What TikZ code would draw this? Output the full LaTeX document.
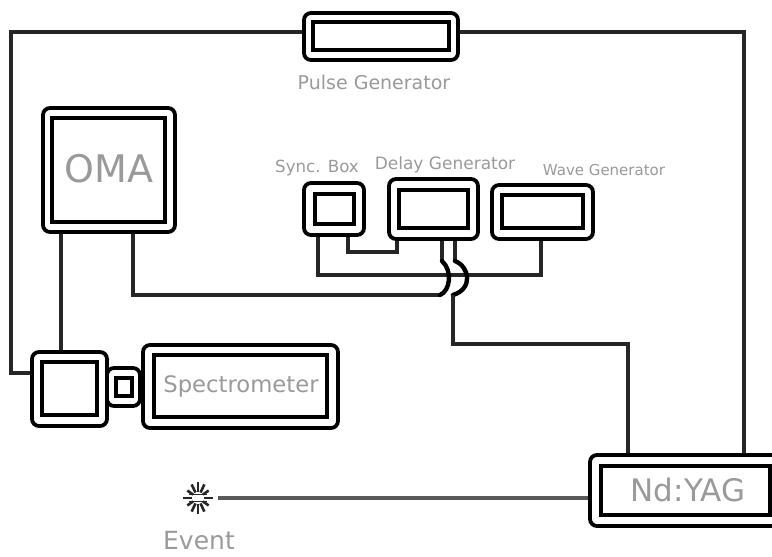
\documentclass[tikz,border=0pt]{standalone}
\usepackage{fontspec}
\setmainfont{DejaVu Sans}
\definecolor{lab}{HTML}{9A9A9A}
\definecolor{wire}{HTML}{262626}
\tikzset{
  outerbox/.style={draw=black,line width=3.8pt,rounded corners=7pt,fill=white,inner sep=0pt},
  innerbox/.style={draw=black,line width=4pt,fill=white,inner sep=0pt},
  wirel/.style={draw=wire,line width=3.2pt,line join=miter},
  jump/.style={draw=black,line width=4.4pt,line cap=round},
  beam/.style={draw=black!65,line width=4.6pt},
  lbl/.style={text=lab,inner sep=0pt,font=\fontsize{#1}{#1}\selectfont},
  spark/.style={draw=black!85,line width=2.6pt}
}
% name, x0,y0,x1,y1, ix0,iy0,ix1,iy1
\newcommand{\instr}[9]{%
  \node[outerbox,minimum width={(#4-#2)*1pt},minimum height={(#5-#3)*1pt}] (#1) at ({(#2+#4)/2},{(#3+#5)/2}) {};
  \node[innerbox,minimum width={(#8-#6)*1pt},minimum height={(#9-#7)*1pt}] (#1in) at ({(#6+#8)/2},{(#7+#9)/2}) {};
}
\begin{document}
\begin{tikzpicture}[x=1pt,y=-1pt]
\useasboundingbox[fill=white] (0,0) rectangle (772,557);
\clip (0,0) rectangle (772,557);
\instr{pulse}{304}{13}{458}{60}{313}{22}{449}{50}
\instr{oma}{43}{108}{175}{232}{52}{118}{165}{222}
\instr{sync}{304}{183}{364}{235}{315}{194}{354}{224}
\instr{delay}{389}{179}{478}{239}{399}{190}{468}{228}
\instr{wave}{492}{185}{593}{239}{502}{195}{583}{228}
\instr{cam}{32}{352}{107}{426}{42}{362}{97}{415}
\instr{slit}{107}{368}{140}{406}{116}{378}{132}{396}
\instr{spec}{143}{345}{338}{428}{154}{355}{327}{417}
\instr{yag}{590}{455}{790}{526}{601}{466}{770}{515}
% labels
\node[lbl=19] (tpulse) at (374,82) {Pulse Generator};
\node[lbl=38] (toma) at (109,169) {OMA};
\node[lbl=16.7] (tsync) at (317,168) {Sync. Box};
\node[lbl=17] (tdelay) at (445,165) {Delay Generator};
\node[lbl=15] (twave) at (604,170) {Wave Generator};
\node[lbl=22.7] (tspec) at (241,386) {Spectrometer};
\node[lbl=31] (tyag) at (688,490) {Nd:YAG};
\node[lbl=25] (tevent) at (199,541) {Event};
% spark
\node[minimum size=30pt,inner sep=0pt] (star) at (198,498) {};
\foreach \a/\r in {0/15,35/13,65/15,90/16,115/15,145/13,180/15,215/13,245/15,270/16,295/15,325/13}
  \draw[spark] (star.center) ++(\a:6) -- ++(\a:{\r-6});
\draw[spark,line width=1.8pt] (star.center) ++(-9,-3.5) -- ++(18,0) (star.center) ++(-9,3.5) -- ++(18,0);
% wires
\coordinate (j1top) at (442,261);
\coordinate (j1end) at (440,295);
\coordinate (j2top) at (455,261);
\coordinate (j2end) at (453,295);
\draw[wirel] (cam.west |- 0,373) -- (11,373) -- (11,32) -- (pulse.west |- 0,32);
\draw[wirel] (pulse.east |- 0,32) -- (744,32) -- (744,0 |- yag.north);
\draw[wirel] (61,0 |- oma.south) -- (61,0 |- cam.north);
\draw[wirel] (318,0 |- sync.south) -- (318,275) -- (541,275) -- (541,0 |- wave.south);
\draw[wirel] (348,0 |- sync.south) -- (348,252) -- (397,252) -- (397,0 |- delay.south);
\draw[wirel] (133,0 |- oma.south) -- (133,295) -- (j1end);
\draw[wirel] (442,0 |- delay.south) -- (j1top);
\draw[jump] (j1end) .. controls (450,291) and (453,271) .. (j1top);
\draw[wirel] (455,0 |- delay.south) -- (j2top);
\draw[jump] (j2top) .. controls (470,267) and (473,289) .. (j2end);
\draw[wirel] (j2end) -- (453,344) -- (628,344) -- (628,0 |- yag.north);
\draw[beam] (218,0 |- star.center) -- (yag.west |- star.center);
\end{tikzpicture}
\end{document}
